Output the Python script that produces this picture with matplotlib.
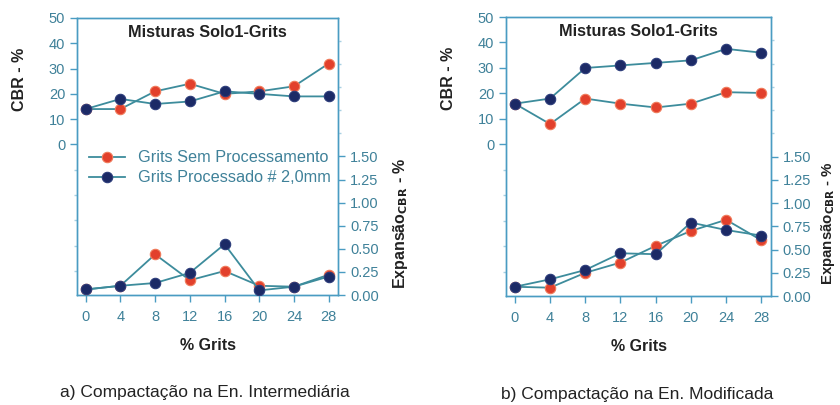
import numpy as np
import matplotlib
matplotlib.use("Agg")
import matplotlib.pyplot as plt

plt.rcParams['font.family'] = ['Liberation Sans', 'DejaVu Sans']

# data
grits = [0, 4, 8, 12, 16, 20, 24, 28]

cbr_sem_a = [14, 14, 21, 24, 20, 21, 23, 32]
cbr_proc_a = [14, 18, 16, 17, 21, 20, 19, 19]
exp_sem_a = [0.06, 0.10, 0.44, 0.16, 0.26, 0.10, 0.09, 0.22]
exp_proc_a = [0.06, 0.10, 0.13, 0.24, 0.55, 0.05, 0.09, 0.20]

cbr_sem_b = [16, 8, 18, 16, 14.5, 16, 20.5, 20.2]
cbr_proc_b = [16, 18, 30, 31, 32, 33, 37.5, 36]
exp_sem_b = [0.10, 0.09, 0.25, 0.36, 0.54, 0.70, 0.82, 0.60]
exp_proc_b = [0.10, 0.18, 0.28, 0.46, 0.45, 0.79, 0.71, 0.65]

labels = ['Grits Sem Processamento', 'Grits Processado # 2,0mm']
captions = ['a) Compactação na En. Intermediária', 'b) Compactação na En. Modificada']

RED = '#e2402c'
NAVY = '#1c2a66'
LINE = '#3d8c9c'
SPINE = '#4a9cc2'
FAINT = '#a8d0e2'
TICKTXT = '#3f8199'

fig = plt.figure(figsize=(8.4, 4.05), dpi=100)

panels = [
    ([0.0917, 0.2716, 0.311, 0.684], cbr_sem_a, cbr_proc_a, exp_sem_a, exp_proc_a, True, 0.2435, 0.03, 1.2, 11.5),
    ([0.6024, 0.269, 0.3155, 0.689], cbr_sem_b, cbr_proc_b, exp_sem_b, exp_proc_b, False, 0.758, 0.025, 1.18, 10.8),
]

for i, (rect, cs, cp, es, ep, show_leg, capx, capy, rlx, rfs) in enumerate(panels):
    ax = fig.add_axes(rect)
    ax2 = ax.twinx()

    l1, = ax.plot(grits, cs, '-o', color=LINE, lw=1.3, ms=7.5,
                  mfc=RED, mec='#f07a5a', mew=0.8, zorder=3)
    l2, = ax.plot(grits, cp, '-o', color=LINE, lw=1.3, ms=7.5,
                  mfc=NAVY, mec='#2c3c7a', mew=0.8, zorder=4)
    ax2.plot(grits, es, '-o', color=LINE, lw=1.3, ms=7.5,
             mfc=RED, mec='#f07a5a', mew=0.8, zorder=3)
    ax2.plot(grits, ep, '-o', color=LINE, lw=1.3, ms=7.5,
             mfc=NAVY, mec='#2c3c7a', mew=0.8, zorder=4)

    ax.set_xlim(-1, 29.1)
    ax.set_ylim(-59.5, 50)
    ax2.set_ylim(0, 3.0)

    ax.set_xticks(grits)
    ax.set_yticks(np.arange(0, 51, 10))
    ax.set_yticks(np.arange(-50, 0, 10), minor=True)
    ax2.set_yticks(np.arange(0, 1.51, 0.25))
    ax2.set_yticklabels(['%.2f' % v for v in np.arange(0, 1.51, 0.25)])
    ax2.set_yticks(np.arange(1.75, 2.9, 0.25), minor=True)
    ax.xaxis.set_minor_locator(plt.NullLocator())

    for a in (ax, ax2):
        for s in a.spines.values():
            s.set_color(SPINE)
            s.set_linewidth(1.0)
        a.tick_params(which='major', colors=SPINE, labelcolor=TICKTXT, labelsize=10.5,
                      length=5, width=1.0, direction='out')
        a.tick_params(which='minor', colors=FAINT, length=2.5, width=1.0, direction='out')
    ax.tick_params(axis='x', pad=6)

    ax.set_xlabel('% Grits', fontsize=11.5, fontweight='bold', color='#222222', labelpad=10)
    ax.set_ylabel('CBR - %', fontsize=11.5, fontweight='bold', color='#222222')
    ax.yaxis.set_label_coords(-0.19, 0.78)
    ax2.set_ylabel(r'Expansão$_{\mathbf{CBR}}$ - %', fontsize=rfs, fontweight='bold',
                   color='#222222')
    ax2.yaxis.set_label_coords(rlx, 0.26)

    ax.text(0.5, 0.975, 'Misturas Solo1-Grits', transform=ax.transAxes,
            ha='center', va='top', fontsize=11.7, fontweight='bold', color='#222222')

    if show_leg:
        ax.legend([l1, l2], labels, loc='upper left', bbox_to_anchor=(-0.01, 0.575),
                  frameon=False, fontsize=11.7, handlelength=2.2, handletextpad=0.8,
                  labelspacing=0.3, labelcolor=TICKTXT)

    fig.text(capx, capy, captions[i], ha='center', va='center', fontsize=12.5,
             color='#222222')

fig.savefig('out.png', dpi=100)
